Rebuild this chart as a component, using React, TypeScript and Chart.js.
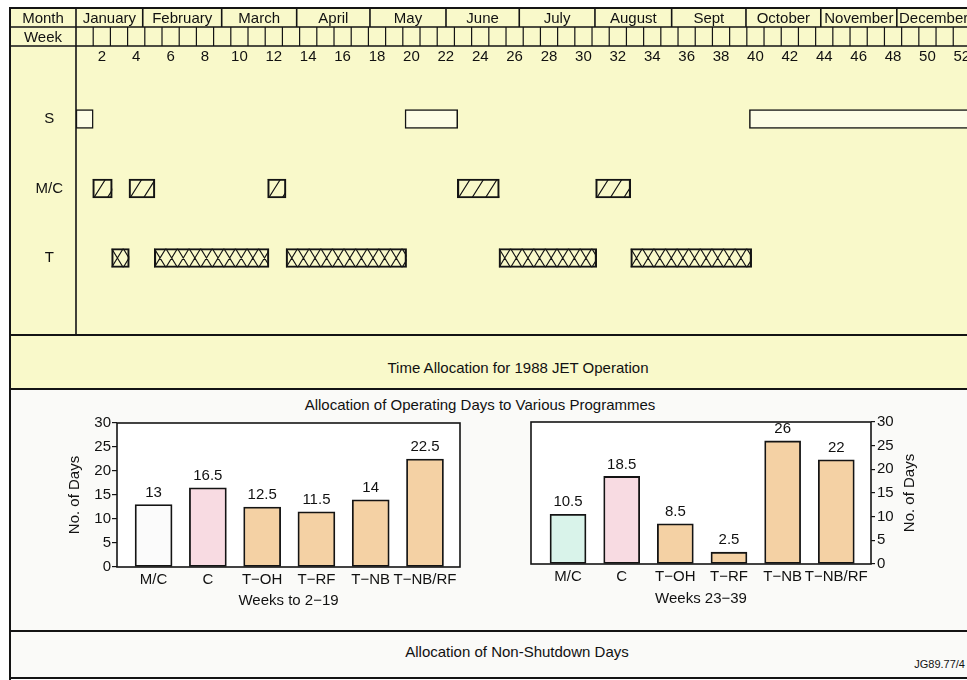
import React, { useEffect, useRef } from 'react';
import { Chart, registerables } from 'chart.js';

Chart.register(...registerables);

const FONT = '"Liberation Sans", Arial, Helvetica, sans-serif';
Chart.defaults.font.family = FONT;
Chart.defaults.font.size = 15;
Chart.defaults.color = '#111';

// ---------- Gantt (time allocation) data ----------
const MONTHS = ['January', 'February', 'March', 'April', 'May', 'June', 'July', 'August', 'Sept', 'October', 'November', 'December'];
// month cell end positions, in weeks, as drawn in the figure
const MONTH_ENDS = [3.88, 8.47, 12.83, 17.09, 21.51, 25.77, 30.17, 34.63, 38.95, 43.3, 47.72, 52];
const WEEK_LABELS = [2, 4, 6, 8, 10, 12, 14, 16, 18, 20, 22, 24, 26, 28, 30, 32, 34, 36, 38, 40, 42, 44, 46, 48, 50, 52];
const ROWS = ['S', 'M/C', 'T'];
const S_SPANS = [[0, 1], [19.13, 22.19], [39.15, 52]];
const MC_SPANS = [[0.97, 2.11], [3.08, 4.59], [11.14, 12.21], [22.17, 24.61], [30.21, 32.25]];
const T_SPANS = [[2.07, 3.1], [4.55, 11.22], [12.21, 19.22], [24.59, 30.27], [32.25, 39.28]];

// ---------- Bar chart data ----------
const PROGRAMMES = ['M/C', 'C', 'T\u2212OH', 'T\u2212RF', 'T\u2212NB', 'T\u2212NB/RF'];
const DAYS_WEEKS_2_19 = [13, 16.5, 12.5, 11.5, 14, 22.5];
const DAYS_WEEKS_23_39 = [10.5, 18.5, 8.5, 2.5, 26, 22];
const PEACH = '#f4d1a4';
const PINK = '#f8dbe2';
const COLORS_2_19 = ['#fbfbfb', PINK, PEACH, PEACH, PEACH, PEACH];
const COLORS_23_39 = ['#d9f3ea', PINK, PEACH, PEACH, PEACH, PEACH];

const INK = '#141414';

const hatchPlugin = {
  id: 'hatch',
  afterDatasetsDraw(chart: any) {
    const ctx = chart.ctx;
    const ca = chart.chartArea;
    chart.data.datasets.forEach((ds: any, di: number) => {
      const kind = ds.hatch;
      if (!kind) return;
      const meta = chart.getDatasetMeta(di);
      meta.data.forEach((el: any) => {
        const p = el.getProps(['x', 'y', 'base', 'height'], true);
        const x0 = Math.min(p.x, p.base);
        const x1 = Math.max(p.x, p.base);
        const y0 = p.y - p.height / 2;
        const y1 = p.y + p.height / 2;
        ctx.save();
        ctx.beginPath();
        ctx.rect(Math.max(x0, ca.left), y0, Math.min(x1, ca.right) - Math.max(x0, ca.left), y1 - y0);
        ctx.clip();
        ctx.strokeStyle = INK;
        ctx.lineWidth = 1.2;
        ctx.beginPath();
        if (kind === 'diag') {
          const run = 12;
          const gap = 13.5;
          for (let sx = x0 + 1 - gap * 2; sx < x1 + run; sx += gap) {
            ctx.moveTo(sx, y1);
            ctx.lineTo(sx + run, y0);
          }
        } else {
          const w = 11.6;
          for (let sx = x0 - w; sx < x1 + w; sx += w) {
            ctx.moveTo(sx, y0);
            ctx.lineTo(sx + w, y1);
            ctx.moveTo(sx + w, y0);
            ctx.lineTo(sx, y1);
          }
        }
        ctx.stroke();
        ctx.restore();
      });
    });
  },
};

const headerPlugin = {
  id: 'ganttHeader',
  afterDraw(chart: any) {
    const { ctx, chartArea: ca } = chart;
    const x = chart.scales.x;
    const W = chart.width;
    const leftEdge = 10;
    const top = 8;
    const r1 = 27;
    const r2 = 46;
    const bottom = 335;
    ctx.save();
    ctx.strokeStyle = INK;
    ctx.lineWidth = 1.6;
    ctx.beginPath();
    ctx.moveTo(leftEdge, r1);
    ctx.lineTo(W, r1);
    ctx.moveTo(leftEdge, r2);
    ctx.lineTo(W, r2);
    ctx.moveTo(ca.left, top);
    ctx.lineTo(ca.left, bottom);
    MONTH_ENDS.forEach((w) => {
      const px = x.getPixelForValue(w);
      ctx.moveTo(px, top);
      ctx.lineTo(px, r1);
    });
    ctx.stroke();
    ctx.lineWidth = 1.2;
    ctx.beginPath();
    for (let k = 1; k < 52; k++) {
      const px = x.getPixelForValue(k);
      ctx.moveTo(px, r1);
      ctx.lineTo(px, r2);
    }
    ctx.stroke();
    ctx.fillStyle = '#111';
    ctx.font = `15px ${FONT}`;
    ctx.textAlign = 'center';
    ctx.textBaseline = 'middle';
    const lc = (leftEdge + ca.left) / 2;
    ctx.fillText('Month', lc, (top + r1) / 2 + 1);
    ctx.fillText('Week', lc, (r1 + r2) / 2 + 1);
    let prev = 0;
    MONTHS.forEach((m, i) => {
      const a = x.getPixelForValue(prev);
      const b = x.getPixelForValue(MONTH_ENDS[i]);
      ctx.fillText(m, (a + b) / 2, (top + r1) / 2 + 1);
      prev = MONTH_ENDS[i];
    });
    ctx.restore();
  },
};

const boxPlugin = {
  id: 'box',
  beforeDraw(chart: any) {
    const { ctx, chartArea: ca } = chart;
    ctx.save();
    ctx.fillStyle = '#ffffff';
    ctx.fillRect(ca.left, ca.top, ca.right - ca.left, ca.bottom - ca.top);
    ctx.restore();
  },
  afterDatasetsDraw(chart: any) {
    const { ctx, chartArea: ca } = chart;
    ctx.save();
    ctx.strokeStyle = INK;
    ctx.lineWidth = 1.6;
    ctx.strokeRect(ca.left, ca.top, ca.right - ca.left, ca.bottom - ca.top);
    const ds = chart.data.datasets[0];
    const meta = chart.getDatasetMeta(0);
    ctx.fillStyle = '#111';
    ctx.font = `15px ${FONT}`;
    ctx.textAlign = 'center';
    ctx.textBaseline = 'middle';
    meta.data.forEach((el: any, i: number) => {
      ctx.fillText(String(ds.data[i].y), el.x, el.y - 12);
    });
    ctx.restore();
  },
  afterDraw(chart: any, _args: any, opts: any) {
    if (!opts || !opts.sideTitle) return;
    const { ctx, chartArea: ca } = chart;
    ctx.save();
    ctx.fillStyle = '#111';
    ctx.font = `15px ${FONT}`;
    ctx.textAlign = 'center';
    ctx.textBaseline = 'middle';
    ctx.translate(ca.right + 39, (ca.top + ca.bottom) / 2);
    ctx.rotate(-Math.PI / 2);
    ctx.fillText(opts.sideTitle, 0, 0);
    ctx.restore();
  },
};

function ganttConfig(): any {
  const common = {
    borderColor: INK,
    borderWidth: 1.5,
    borderSkipped: false,
    barThickness: 19,
    grouped: false,
  };
  return {
    type: 'bar',
    data: {
      datasets: [
        { label: ROWS[0], data: S_SPANS.map((s) => ({ x: s, y: 0 })), backgroundColor: '#fdfde6', ...common },
        { label: ROWS[1], data: MC_SPANS.map((s) => ({ x: s, y: 1 })), backgroundColor: 'rgba(0,0,0,0)', hatch: 'diag', ...common },
        { label: ROWS[2], data: T_SPANS.map((s) => ({ x: s, y: 2 })), backgroundColor: 'rgba(0,0,0,0)', hatch: 'cross', ...common },
      ],
    },
    options: {
      indexAxis: 'y',
      responsive: false,
      animation: false,
      layout: { padding: { left: 10, top: 49, right: 0, bottom: 54 } },
      plugins: { legend: { display: false }, tooltip: { enabled: false } },
      scales: {
        x: {
          type: 'linear',
          position: 'top',
          min: 0,
          max: 51.8,
          offset: false,
          grid: { display: false, drawTicks: false },
          border: { display: false },
          ticks: { autoSkip: false, maxRotation: 0, padding: 0, callback: (v: number) => String(Math.round(v + 0.5)) },
          afterBuildTicks: (s: any) => {
            s.ticks = WEEK_LABELS.map((w) => ({ value: w - 0.5 }));
          },
          afterFit: (s: any) => {
            s.height = 17;
            s.paddingLeft = 0;
            s.paddingRight = 0;
          },
        },
        y: {
          type: 'linear',
          reverse: true,
          min: -0.763,
          max: 3.108,
          offset: false,
          grid: { display: false, drawTicks: false },
          border: { display: false },
          ticks: { crossAlign: 'center', padding: 13, callback: (v: number) => ROWS[v] ?? '' },
          afterBuildTicks: (s: any) => {
            s.ticks = ROWS.map((_, i) => ({ value: i }));
          },
          afterFit: (s: any) => {
            s.width = 66;
            s.paddingTop = 0;
            s.paddingBottom = 0;
          },
        },
      },
    },
    plugins: [hatchPlugin, headerPlugin],
  };
}

function barConfig(values: number[], colors: string[], title: string, side: 'left' | 'right', xMin: number, xMax: number, thickness: number): any {
  const isLeft = side === 'left';
  return {
    type: 'bar',
    data: {
      datasets: [
        {
          data: values.map((v, i) => ({ x: i, y: v })),
          backgroundColor: colors,
          borderColor: INK,
          borderWidth: 1.8,
          borderSkipped: false,
          barThickness: thickness,
        },
      ],
    },
    options: {
      responsive: false,
      animation: false,
      layout: { padding: isLeft ? { top: 8, right: 10, bottom: 0, left: 0 } : { top: 8, right: 24, bottom: 0, left: 16 } },
      plugins: {
        legend: { display: false },
        tooltip: { enabled: false },
        box: { sideTitle: isLeft ? null : 'No. of Days' },
      },
      scales: {
        x: {
          type: 'linear',
          min: xMin,
          max: xMax,
          offset: false,
          grid: { display: false, drawTicks: false },
          border: { display: false },
          ticks: { autoSkip: false, maxRotation: 0, padding: 4, callback: (v: number) => PROGRAMMES[v] ?? '' },
          afterBuildTicks: (s: any) => {
            s.ticks = PROGRAMMES.map((_, i) => ({ value: i }));
          },
          afterFit: (s: any) => {
            s.height = isLeft ? 43 : 44;
            s.paddingLeft = 0;
            s.paddingRight = 0;
          },
          title: { display: true, text: title, padding: { top: 0, bottom: 0 }, color: '#111' },
        },
        y: {
          position: side,
          min: 0,
          max: 30,
          ticks: { stepSize: 5, padding: isLeft ? 1 : 2 },
          grid: { drawOnChartArea: false, drawTicks: true, tickLength: isLeft ? 5 : 4, color: INK, lineWidth: 1.2 },
          border: { display: false },
          title: isLeft ? { display: true, text: 'No. of Days', padding: { top: 6, bottom: 0 }, color: '#111' } : { display: false },
          afterFit: (s: any) => {
            s.width = isLeft ? 57 : 30;
            s.paddingTop = 0;
            s.paddingBottom = 0;
          },
        },
      },
    },
    plugins: [boxPlugin],
  };
}

function ChartCanvas(props: { left: number; top: number; width: number; height: number; make: () => any }) {
  const ref = useRef<HTMLCanvasElement | null>(null);
  useEffect(() => {
    if (!ref.current) return;
    const chart = new Chart(ref.current, props.make());
    return () => chart.destroy();
  }, []);
  return (
    <canvas
      ref={ref}
      width={props.width}
      height={props.height}
      style={{ position: 'absolute', left: props.left, top: props.top, width: props.width, height: props.height }}
    />
  );
}

function Line(props: { x: number; y: number; w: number; h: number }) {
  return <div style={{ position: 'absolute', left: props.x, top: props.y, width: props.w, height: props.h, background: INK }} />;
}

function Label(props: { x: number; y: number; size?: number; right?: boolean; children: React.ReactNode }) {
  return (
    <div
      style={{
        position: 'absolute',
        left: props.x,
        top: props.y,
        transform: props.right ? 'translate(-100%, -50%)' : 'translate(-50%, -50%)',
        whiteSpace: 'nowrap',
        fontFamily: FONT,
        fontSize: props.size ?? 15,
        lineHeight: 1,
        color: '#111',
      }}
    >
      {props.children}
    </div>
  );
}

export default function App() {
  return (
    <div style={{ position: 'fixed', left: 0, top: 0, width: 967, height: 680, overflow: 'hidden', background: '#ffffff' }}>
      <div style={{ position: 'absolute', left: 10, top: 8, width: 957, height: 381, background: '#f9f9ca' }} />
      <div style={{ position: 'absolute', left: 10, top: 389, width: 957, height: 289, background: '#fafaf8' }} />
      <Line x={9} y={7} w={958} h={2} />
      <Line x={9} y={7} w={2} h={673} />
      <Line x={10} y={334} w={957} h={2} />
      <Line x={10} y={388} w={957} h={2} />
      <Line x={10} y={630} w={957} h={2} />
      <Line x={10} y={677} w={957} h={2} />
      <Label x={518} y={367}>Time Allocation for 1988 JET Operation</Label>
      <Label x={480} y={404}>Allocation of Operating Days to Various Programmes</Label>
      <Label x={517} y={651}>Allocation of Non-Shutdown Days</Label>
      <Label x={965} y={664} size={11} right>
        JG89.77/4
      </Label>
      <ChartCanvas left={0} top={0} width={967} height={389} make={ganttConfig} />
      <ChartCanvas
        left={60}
        top={415}
        width={410}
        height={195}
        make={() => barConfig(DAYS_WEEKS_2_19, COLORS_2_19, 'Weeks to 2\u221219', 'left', -0.674, 5.645, 37)}
      />
      <ChartCanvas
        left={515}
        top={414}
        width={410}
        height={194}
        make={() => barConfig(DAYS_WEEKS_23_39, COLORS_23_39, 'Weeks 23\u221239', 'right', -0.69, 5.647, 36)}
      />
    </div>
  );
}
